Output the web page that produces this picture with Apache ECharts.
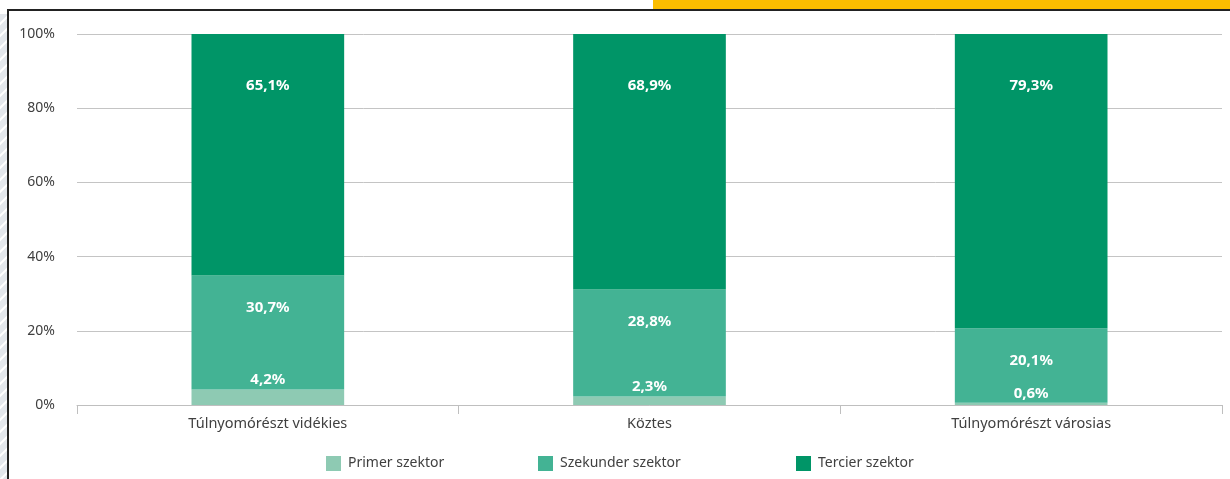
<!DOCTYPE html>
<html>
<head>
<meta charset="utf-8">
<script src="https://cdn.jsdelivr.net/npm/echarts@6/dist/echarts.min.js"></script>
<style>
  html, body { margin: 0; padding: 0; background: #ffffff; }
  #chart { width: 1230px; height: 479px; }
</style>
</head>
<body>
<div id="chart"></div>
<script>
// Sector shares of employment by settlement type (%)
const categories = ['Túlnyomórészt vidékies', 'Köztes', 'Túlnyomórészt városias'];
const primer = [4.2, 2.3, 0.6];
const szekunder = [30.7, 28.8, 20.1];
const tercier = [65.1, 68.9, 79.3];
const yTicks = [0, 20, 40, 60, 80, 100];

const seriesNames = ['Primer szektor', 'Szekunder szektor', 'Tercier szektor'];
const colors = ['#8ecab3', '#43b394', '#009567'];

const FONT = '"Noto Sans", "Open Sans", sans-serif';

// Hatched strip on the left edge
function hatchPattern() {
  const c = document.createElement('canvas');
  c.width = 12; c.height = 12;
  const g = c.getContext('2d');
  g.fillStyle = '#e3e7ec';
  g.fillRect(0, 0, 12, 12);
  g.strokeStyle = '#ffffff';
  g.lineWidth = 2;
  g.beginPath();
  g.moveTo(-2, 14); g.lineTo(14, -2);
  g.moveTo(-8, 8); g.lineTo(8, -8);
  g.moveTo(4, 20); g.lineTo(20, 4);
  g.stroke();
  return c;
}

const fmt = v => v.toFixed(1).replace('.', ',') + '%';

const labelBase = {
  show: true,
  color: '#ffffff',
  fontFamily: FONT,
  fontWeight: 'bold',
  fontSize: 15,
  formatter: p => fmt(p.value)
};

const chart = echarts.init(document.getElementById('chart'), null, { renderer: 'canvas' });

chart.setOption({
  animation: false,
  grid: { left: 77, right: 8, top: 34, bottom: 74, containLabel: false },
  legend: [0, 1, 2].map(i => ({
    data: [seriesNames[i]],
    left: [321, 533, 791][i],
    top: 451,
    itemWidth: 15,
    itemHeight: 15,
    itemGap: 0,
    icon: 'rect',
    textStyle: { fontFamily: FONT, fontSize: 14, color: '#404040', padding: [0, 0, 0, 2] }
  })),
  xAxis: {
    type: 'category',
    data: categories,
    axisLine: { lineStyle: { color: '#bfbfbf', width: 1 } },
    axisTick: { show: true, length: 9, lineStyle: { color: '#bfbfbf' } },
    axisLabel: { fontFamily: FONT, fontSize: 14.5, color: '#404040', margin: 11 }
  },
  yAxis: {
    type: 'value',
    min: yTicks[0],
    max: yTicks[yTicks.length - 1],
    interval: 20,
    axisLine: { show: false },
    axisTick: { show: false },
    splitLine: { lineStyle: { color: '#c4c4c4', width: 1 } },
    axisLabel: { fontFamily: FONT, fontSize: 14, color: '#404040', margin: 22, formatter: v => v + '%' }
  },
  series: [
    {
      name: seriesNames[0], type: 'bar', stack: 'total', barWidth: '40%',
      itemStyle: { color: colors[0] },
      label: Object.assign({}, labelBase, { position: 'top', distance: 2 }),
      data: primer
    },
    {
      name: seriesNames[1], type: 'bar', stack: 'total', barWidth: '40%',
      itemStyle: { color: colors[1] },
      label: Object.assign({}, labelBase, { position: 'insideTop', distance: 25 }),
      data: szekunder
    },
    {
      name: seriesNames[2], type: 'bar', stack: 'total', barWidth: '40%',
      itemStyle: { color: colors[2] },
      label: Object.assign({}, labelBase, { position: 'insideTop', distance: 44 }),
      data: tercier
    }
  ],
  graphic: [
    { type: 'rect', shape: { x: 0, y: 14, width: 7, height: 465 }, style: { fill: { image: hatchPattern(), repeat: 'repeat' } }, silent: true },
    { type: 'rect', shape: { x: 653, y: 0, width: 577, height: 9 }, style: { fill: '#fbbd00' }, silent: true },
    { type: 'line', shape: { x1: 7, y1: 10, x2: 1230, y2: 10 }, style: { stroke: '#222222', lineWidth: 2 }, silent: true },
    { type: 'line', shape: { x1: 8, y1: 10, x2: 8, y2: 479 }, style: { stroke: '#222222', lineWidth: 2 }, silent: true }
  ]
});
</script>
</body>
</html>
